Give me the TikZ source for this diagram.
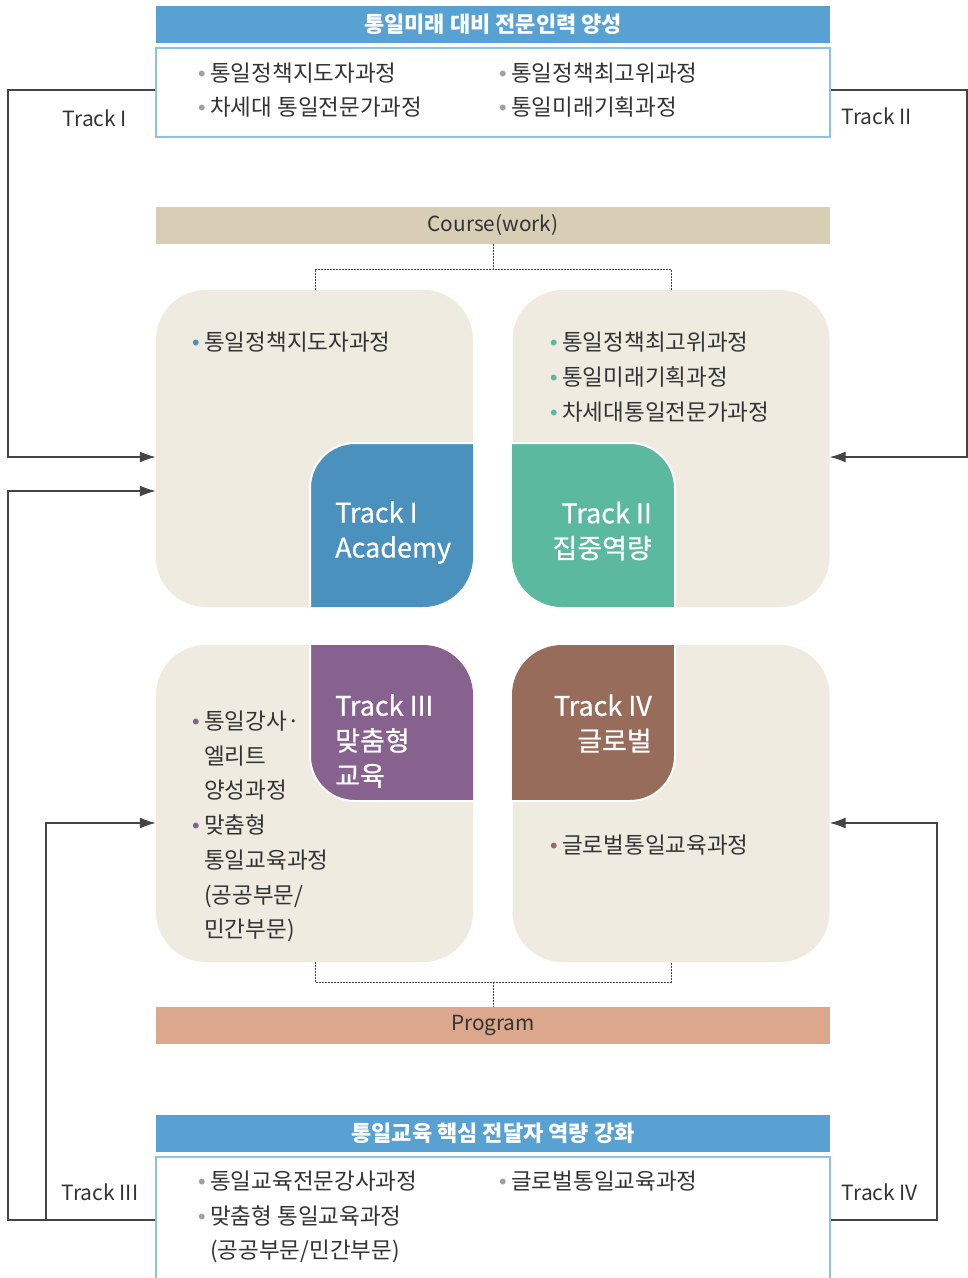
\documentclass[tikz,border=0pt]{standalone}
\usepackage{fontspec}
\setmainfont{Noto Sans CJK KR}
\usetikzlibrary{arrows.meta}
\definecolor{hdrblue}{HTML}{58A1D3}
\definecolor{boxline}{HTML}{8EC1E8}
\definecolor{coursec}{HTML}{D8CDB5}
\definecolor{programc}{HTML}{DBA88D}
\definecolor{beige}{HTML}{EFEBE1}
\definecolor{tblue}{HTML}{4A91BD}
\definecolor{tgreen}{HTML}{5BB99F}
\definecolor{tpurple}{HTML}{87628F}
\definecolor{tbrown}{HTML}{976C5A}
\definecolor{txt}{HTML}{333333}
\definecolor{linec}{HTML}{444444}
\definecolor{bulgray}{HTML}{A0A0A0}
\newcommand\bul[1]{\llap{\raisebox{5.5pt}{\textcolor{#1}{\fontsize{6.5}{6.5}\selectfont ●}}\hspace{5pt}}}
\begin{document}
\begin{tikzpicture}[x=1pt,y=-1pt,
  hdr/.style={fill=hdrblue, minimum width=674pt, minimum height=37pt, inner sep=0pt, text=white, font=\fontsize{22}{22}\selectfont\bfseries},
  listbox/.style={draw=boxline, line width=1.3pt, fill=white, minimum width=674pt, inner sep=0pt},
  bar/.style={minimum width=674pt, minimum height=37pt, inner sep=0pt, text=txt, font=\fontsize{20.8}{20.8}\selectfont},
  item/.style={anchor=base west, inner sep=0pt, text=txt, font=\fontsize{22.5}{22.5}\selectfont},
  bigbox/.style={fill=beige, rounded corners=50pt, minimum width=317pt, minimum height=317pt, inner sep=0pt},
  tracklbl/.style={text=txt, font=\fontsize{21}{21}\selectfont, inner sep=0pt},
  panellbl/.style={text=white, inner sep=0pt, font=\fontsize{27}{35}\selectfont\addfontfeature{FakeBold=0.6}},
  trk/.style={draw=linec, line width=1.4pt},
  arr/.style={trk, -{Latex[length=16pt,width=11pt]}},
  dots/.style={draw=linec, line width=1pt, dash pattern=on 1.5pt off 1.5pt}
]
\useasboundingbox (0,0) rectangle (968,1278);

% ---------- top block ----------
\node[hdr] (h1) at (493,24.5) {통일미래 대비 전문인력 양성};
\node[listbox, minimum height=89pt] (b1) at (493,92.5) {};
\node[item] (i1) at (210,81.5) {\bul{bulgray}통일정책지도자과정};
\node[item] (i2) at (210,115.5) {\bul{bulgray}차세대 통일전문가과정};
\node[item] (i3) at (511,81.5) {\bul{bulgray}통일정책최고위과정};
\node[item] (i4) at (511,115.5) {\bul{bulgray}통일미래기획과정};

% ---------- course bar ----------
\node[bar, fill=coursec] (course) at (493,225.5) {Course(work)};

% ---------- big boxes ----------
\node[bigbox] (tl) at (314.5,448.5) {};
\node[bigbox] (tr) at (671,448.5) {};
\node[bigbox] (bl) at (314.5,803.5) {};
\node[bigbox] (br) at (671,803.5) {};

% coloured panels
\begin{scope}
  \clip[rounded corners=50pt] (156,290) rectangle (473,607);
  \fill[tblue, rounded corners=45pt] (310,443) rectangle (540,680);
  \draw[white, line width=2pt, rounded corners=45pt] (310,443) rectangle (540,680);
\end{scope}
\begin{scope}
  \clip[rounded corners=50pt] (512,290) rectangle (830,607);
  \fill[tgreen, rounded corners=45pt] (440,443) rectangle (675,680);
  \draw[white, line width=2pt, rounded corners=45pt] (440,443) rectangle (675,680);
\end{scope}
\begin{scope}
  \clip[rounded corners=50pt] (156,645) rectangle (473,962);
  \fill[tpurple, rounded corners=45pt] (310,570) rectangle (540,801);
  \draw[white, line width=2pt, rounded corners=45pt] (310,570) rectangle (540,801);
\end{scope}
\begin{scope}
  \clip[rounded corners=50pt] (512,645) rectangle (830,962);
  \fill[tbrown, rounded corners=45pt] (440,570) rectangle (675,801);
  \draw[white, line width=2pt, rounded corners=45pt] (440,570) rectangle (675,801);
\end{scope}

\node[panellbl, anchor=west, align=left] (p1) at (335,532.5) {Track I\\Academy};
\node[panellbl, anchor=east, align=right] (p2) at (652,531) {Track II\\집중역량};
\node[panellbl, anchor=west, align=left] (p3) at (335,741) {Track III\\맞춤형\\교육};
\node[panellbl, anchor=east, align=right] (p4) at (652,723.5) {Track IV\\글로벌};

% box contents
\node[item] (tl1) at (204,350.5) {\bul{tblue}통일정책지도자과정};
\node[item] (tr1) at (562,350.5) {\bul{tgreen}통일정책최고위과정};
\node[item] (tr2) at (562,385.5) {\bul{tgreen}통일미래기획과정};
\node[item] (tr3) at (562,420.5) {\bul{tgreen}차세대통일전문가과정};
\node[item] (bl1) at (204,729.5) {\bul{tpurple}통일강사·};
\node[item] (bl2) at (204,764.2) {엘리트};
\node[item] (bl3) at (204,798.9) {양성과정};
\node[item] (bl4) at (204,833.6) {\bul{tpurple}맞춤형};
\node[item] (bl5) at (204,868.3) {통일교육과정};
\node[item] (bl6) at (204,903) {(공공부문/};
\node[item] (bl7) at (204,937.7) {민간부문)};
\node[item] (br1) at (562,853.5) {\bul{tbrown}글로벌통일교육과정};

% dotted connectors
\coordinate (cj) at (493,269);
\draw[dots] (course.south) -- (cj);
\draw[dots] (tl.north -| 315,0) |- (cj) -| (tr.north -| 671,0);
\node[bar, fill=programc] (program) at (493,1025.5) {Program};
\coordinate (pj) at (493,982);
\draw[dots] (bl.south -| 315,0) |- (pj) -| (br.south -| 671,0);
\draw[dots] (pj) -- (program.north);

% ---------- bottom block ----------
\node[hdr] (h2) at (493,1133.5) {통일교육 핵심 전달자 역량 강화};
\node[listbox, minimum height=150pt] (b2) at (493,1232) {};
\node[item] (j1) at (210,1189.5) {\bul{bulgray}통일교육전문강사과정};
\node[item] (j2) at (210,1224.5) {\bul{bulgray}맞춤형 통일교육과정};
\node[item] (j2b) at (210,1258.5) {(공공부문/민간부문)};
\node[item] (j3) at (511,1189.5) {\bul{bulgray}글로벌통일교육과정};

% ---------- track connectors ----------
\draw[arr] (b1.west |- 0,90) -- (8,90) -- (8,457) -- (tl.west |- 0,457);
\draw[arr] (b1.east |- 0,90) -- (967,90) -- (967,457) -- (tr.east |- 0,457);
\draw[arr] (b2.west |- 0,1220) -- (8,1220) -- (8,491) -- (tl.west |- 0,491);
\draw[arr] (46,1220) -- (46,823) -- (bl.west |- 0,823);
\draw[arr] (b2.east |- 0,1220) -- (937,1220) -- (937,823) -- (br.east |- 0,823);

\node[tracklbl] (t1) at (95,118) {Track I};
\node[tracklbl] (t2) at (877,116) {Track II};
\node[tracklbl] (t3) at (100,1192) {Track III};
\node[tracklbl] (t4) at (880,1192) {Track IV};
\end{tikzpicture}
\end{document}
